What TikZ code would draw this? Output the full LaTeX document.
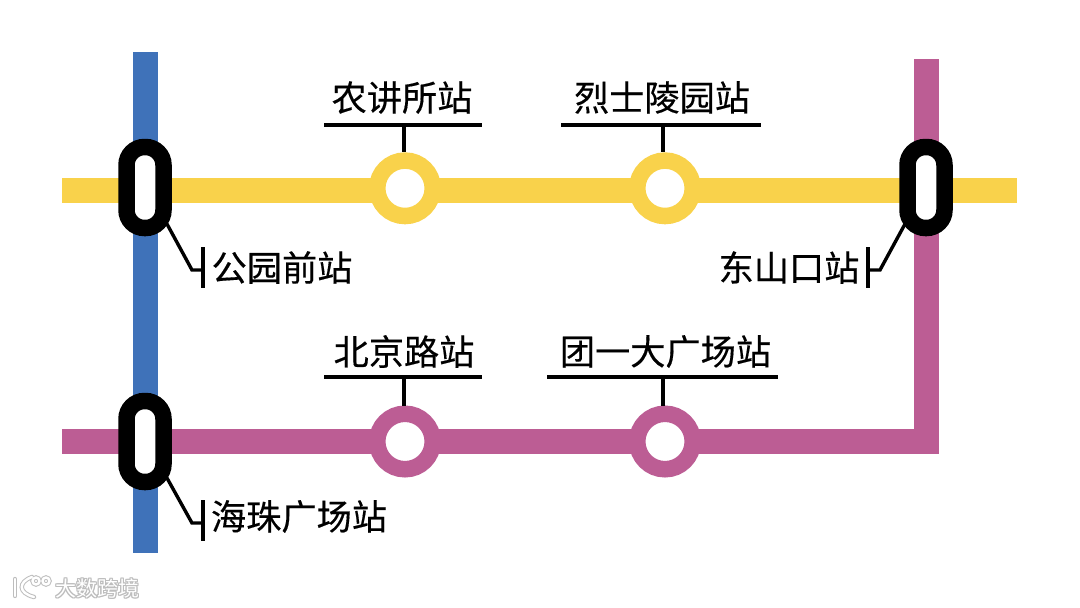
\documentclass[tikz,border=0pt]{standalone}
\usepackage{fontspec}
\newfontfamily\cjk[FakeBold=0.35]{Noto Sans CJK SC}
\newfontfamily\cjkwm{Noto Sans CJK SC}
\definecolor{lineblue}{HTML}{3F72B9}
\definecolor{lineyellow}{HTML}{F9D24B}
\definecolor{linepink}{HTML}{BC5D94}
\definecolor{wmgray}{HTML}{BDBDBD}
\tikzset{
  x=1pt,y=-1pt,
  band/.style={line width=25pt},
  capsule/.style={draw=black,fill=white,line width=16.5pt,rounded corners=18pt,minimum width=37pt,minimum height=81pt,inner sep=0pt,outer sep=8pt},
  ring/.style={circle,fill=white,line width=16.5pt,minimum size=55.5pt,inner sep=0pt,outer sep=8.25pt},
  leader/.style={draw=black,line width=3.4pt},
  stationlabel/.style={font=\cjk\fontsize{35.2}{35.2}\selectfont,inner sep=0pt,text=black},
  wmshadow/.style={font=\cjkwm\fontsize{21}{21}\selectfont,inner sep=0pt,text=wmgray},
  wmtext/.style={font=\cjkwm\fontsize{21}{21}\selectfont,inner sep=0pt,text=white}
}
\begin{document}
\begin{tikzpicture}
\useasboundingbox (0,0) rectangle (1080,608);
\fill[white] (0,0) rectangle (1080,608);
% lines
\coordinate (bt) at (145.5,52); \coordinate (bb) at (145.5,553);
\coordinate (yl) at (62,190.5); \coordinate (yr) at (1017,190.5);
\coordinate (pt) at (926.5,59); \coordinate (pc) at (926.5,441.5); \coordinate (pl) at (62,441.5);
\draw[band,lineblue] (bt) -- (bb);
\draw[band,lineyellow] (yl) -- (yr);
\draw[band,linepink,line join=miter] (pt) -- (pc) -- (pl);
% capsules
\node[capsule] (c1) at (145,187.5) {};
\node[capsule] (c2) at (926,187.5) {};
\node[capsule] (c3) at (145,441.5) {};
% rings
\node[ring,draw=lineyellow] (r1) at (405,188.3) {};
\node[ring,draw=lineyellow] (r2) at (665,188.3) {};
\node[ring,draw=linepink] (r3) at (405,441.5) {};
\node[ring,draw=linepink] (r4) at (665,441.5) {};
% labels
\node[stationlabel] (t1) at (402,97.5) {农讲所站};
\node[stationlabel] (t2) at (662,97.5) {烈士陵园站};
\node[stationlabel] (t3) at (404,351.5) {北京路站};
\node[stationlabel] (t4) at (665.5,351.5) {团一大广场站};
\node[stationlabel] (t5) at (282,267.5) {公园前站};
\node[stationlabel] (t6) at (789,267.5) {东山口站};
\node[stationlabel] (t7) at (299,516.5) {海珠广场站};
% top leaders
\coordinate (a1l) at (324,125); \coordinate (a1r) at (482,125); \coordinate (a1) at (404,125);
\coordinate (a2l) at (561,125); \coordinate (a2r) at (761,125); \coordinate (a2) at (663,125);
\coordinate (a3l) at (324,377); \coordinate (a3r) at (482,377); \coordinate (a3) at (404,377);
\coordinate (a4l) at (547,377); \coordinate (a4r) at (778,377); \coordinate (a4) at (663,377);
\draw[leader] (a1l) -- (a1r); \draw[leader] (a1) -- (a1 |- r1.north);
\draw[leader] (a2l) -- (a2r); \draw[leader] (a2) -- (a2 |- r2.north);
\draw[leader] (a3l) -- (a3r); \draw[leader] (a3) -- (a3 |- r3.north);
\draw[leader] (a4l) -- (a4r); \draw[leader] (a4) -- (a4 |- r4.north);
% side leaders
\coordinate (b1t) at (203,247); \coordinate (b1b) at (203,288); \coordinate (b1m) at (203,270); \coordinate (b1k) at (192,270); \coordinate (b1c) at (167,224);
\coordinate (b2t) at (868,247); \coordinate (b2b) at (868,288); \coordinate (b2m) at (868,270); \coordinate (b2k) at (880,270); \coordinate (b2c) at (905,224);
\coordinate (b3t) at (203,500); \coordinate (b3b) at (203,541); \coordinate (b3m) at (203,523); \coordinate (b3k) at (192,523); \coordinate (b3c) at (167,478);
\draw[leader] (b1t) -- (b1b); \draw[leader] (b1m) -- (b1k) -- (b1c);
\draw[leader] (b2t) -- (b2b); \draw[leader] (b2m) -- (b2k) -- (b2c);
\draw[leader] (b3t) -- (b3b); \draw[leader] (b3m) -- (b3k) -- (b3c);
% watermark
\begin{scope}[line width=4.4pt,wmgray,line cap=round]
  \draw (15,579) -- (15,596);
  \draw (32,577) .. controls (18,582) and (18,593) .. (34,597);
  \draw (36,581) circle[radius=3.5];
  \draw (46,581) circle[radius=3.5];
\end{scope}
\foreach \dx/\dy in {-1/0,1/0,0/-1,0/1,-1/-1,1/1,-1/1,1/-1}
  \node[wmshadow] at (97.5+\dx,588+\dy) {大数跨境};
\node[wmtext] (w0) at (97.5,588) {大数跨境};
\begin{scope}[line width=2.4pt,white,line cap=round]
  \draw (15,579) -- (15,596);
  \draw (32,577) .. controls (18,582) and (18,593) .. (34,597);
  \draw (36,581) circle[radius=3.5];
  \draw (46,581) circle[radius=3.5];
\end{scope}
\end{tikzpicture}
\end{document}
